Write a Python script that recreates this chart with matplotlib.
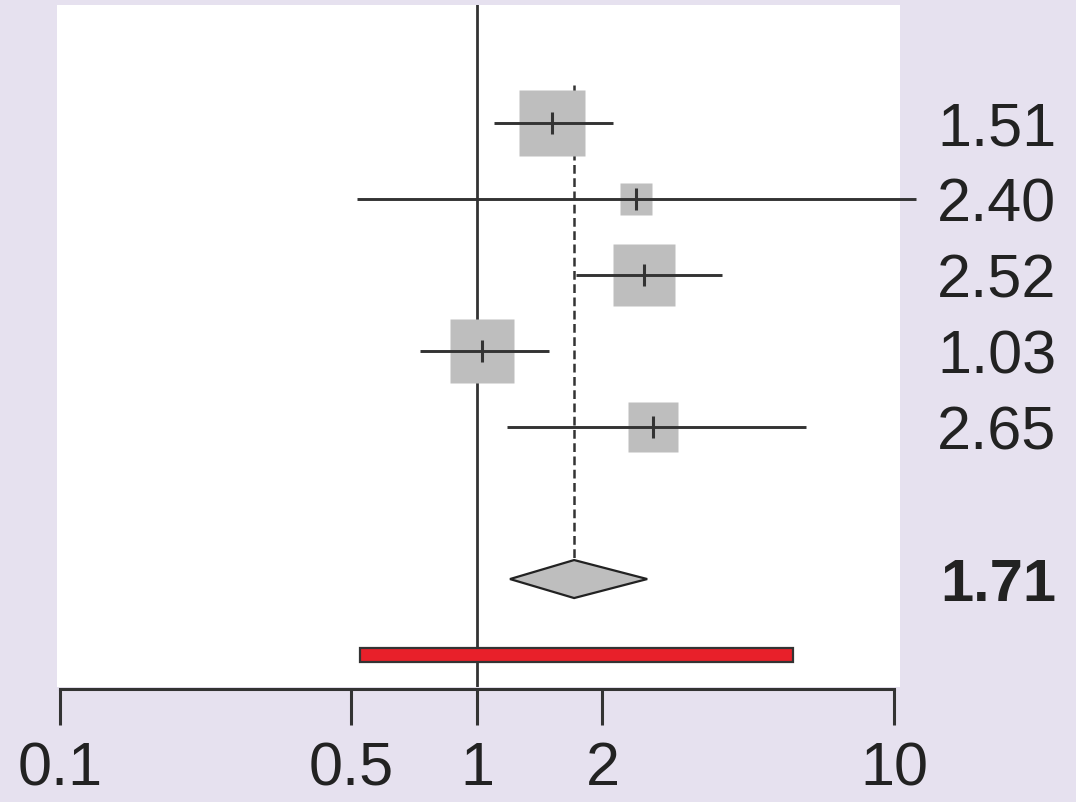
import matplotlib.pyplot as plt
import matplotlib.patches as mpatches
import numpy as np

# study-level results
estimates = [1.51, 2.40, 2.52, 1.03, 2.65]
lower = [1.10, 0.515, 1.73, 0.73, 1.18]
upper = [2.12, 11.3, 3.87, 1.49, 6.15]
weights = [27.2, 6.8, 24.8, 25.6, 15.6]

# pooled estimate and prediction interval
pooled = 1.71
pooled_lower = 1.20
pooled_upper = 2.56
pred_lower = 0.524
pred_upper = 5.73

tick_values = [0.1, 0.5, 1, 2, 10]
tick_labels = ['0.1', '0.5', '1', '2', '10']

plt.rcParams['font.family'] = ['Liberation Sans', 'DejaVu Sans']

bg = '#e6e1ef'
dark = '#333333'
txt = '#222222'
fsize = 44

fig = plt.figure(figsize=(10.76, 8.03), dpi=100, facecolor=bg)
ax = fig.add_axes([0.053, 0.1432, 0.7833, 0.8493])
ax.set_facecolor('white')

rows = np.arange(1, len(estimates) + 1)
pooled_row = len(estimates) + 2
pred_row = pooled_row + 1

# reference line at 1
ax.axvline(1, color=dark, lw=2, zorder=1)

# dashed line at pooled estimate
ax.plot([pooled, pooled], [0.5, pooled_row - 0.25], color=dark, lw=1.8,
        ls=(0, (3.5, 1.8)), zorder=1)

# study boxes, CIs and estimate ticks
max_side = 47.5
for r, est, lo, hi, w in zip(rows, estimates, lower, upper, weights):
    side = max_side * np.sqrt(w / max(weights))
    ax.plot(est, r, marker='s', ms=side, color='#bebebe', mec='none', zorder=2)
    ax.plot([lo, hi], [r, r], color=dark, lw=2.1, zorder=3, clip_on=False,
            solid_capstyle='butt')
    ax.plot(est, r, marker='|', ms=16, mew=2.2, color=dark, zorder=4)

# pooled diamond
diamond = mpatches.Polygon([[pooled_lower, pooled_row], [pooled, pooled_row - 0.25],
                            [pooled_upper, pooled_row], [pooled, pooled_row + 0.25]],
                           closed=True, facecolor='#bebebe', edgecolor='#222222',
                           lw=1.6, zorder=3)
ax.add_patch(diamond)

# prediction interval
pred = mpatches.Rectangle((pred_lower, pred_row - 0.09), pred_upper - pred_lower, 0.18,
                          facecolor='#e8202a', edgecolor='#333333', lw=1.6, zorder=3)
ax.add_patch(pred)

# right-hand labels
for r, est in zip(rows, estimates):
    fig.text(937 / 1076, 1 - (r * 76 + 48) / 803, f'{est:.2f}', fontsize=fsize,
             color=txt, ha='left', va='center_baseline')
fig.text(940 / 1076, 1 - (pooled_row * 76 + 48) / 803, f'{pooled:.2f}', fontsize=fsize - 1,
         fontweight='bold', color=txt, ha='left', va='center_baseline')

ax.set_xscale('log')
ax.set_xlim(0.0984, 10.33)
ax.set_ylim(pred_row + 0.42, -0.55)

for s in ['top', 'left', 'right']:
    ax.spines[s].set_visible(False)
ax.spines['bottom'].set_position(('outward', 1.5))
ax.spines['bottom'].set_bounds(0.1, 10)
ax.spines['bottom'].set_linewidth(2.2)
ax.spines['bottom'].set_color(dark)

ax.set_xticks(tick_values)
ax.set_xticklabels(tick_labels)
ax.xaxis.set_minor_locator(plt.NullLocator())
ax.tick_params(axis='x', direction='out', length=26, width=2.2, color=dark, pad=11,
               labelsize=fsize, labelcolor=txt)
ax.set_yticks([])

fig.savefig('out.png', dpi=100, facecolor=bg)
